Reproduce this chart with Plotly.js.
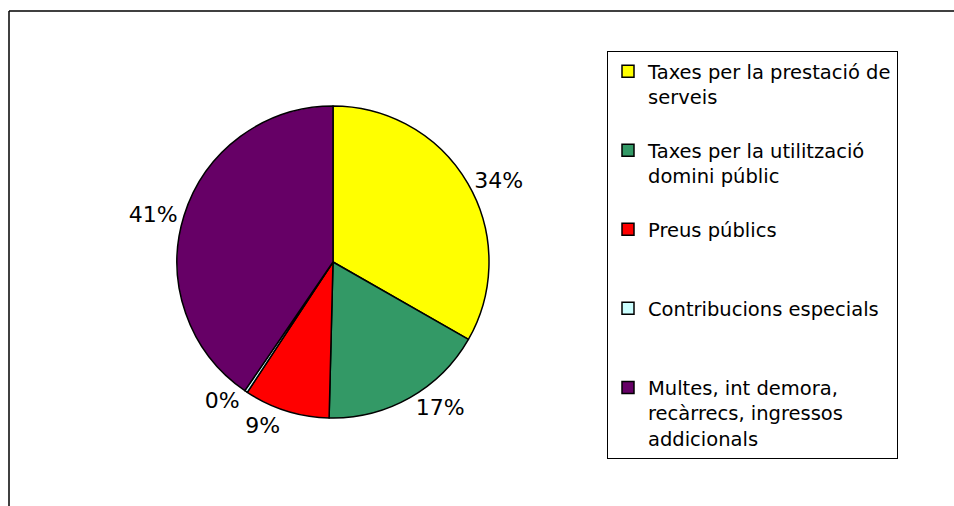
<!DOCTYPE html>
<html>
<head>
<meta charset="utf-8">
<script src="https://cdn.plot.ly/plotly-3.0.1.min.js"></script>
<style>html,body{margin:0;padding:0;background:#fff;}#chart{width:954px;height:506px;}
#chart path.textline{display:none !important;}</style>
</head>
<body>
<div id="chart"></div>
<script>
const categories = [
  "Taxes per la prestació de<br>serveis<br>&nbsp;",
  "Taxes per la utilització<br>domini públic<br>&nbsp;",
  "Preus públics<br>&nbsp;<br>&nbsp;",
  "Contribucions especials<br>&nbsp;<br>&nbsp;",
  "Multes, int demora,<br>recàrrecs, ingressos<br>addicionals"
];
const values = [33.4, 17.2, 8.9, 0.3, 40.6];
const percentLabels = ["34%", "17%", "9%", "0%", "41%"];
const colors = ["#FFFF00", "#339966", "#FF0000", "#CCFFFF", "#660066"];

const W = 954, H = 506;
const FONT = "'DejaVu Sans', Verdana, sans-serif";
const trace = {
  type: "pie",
  labels: categories,
  values: values,
  text: percentLabels,
  textinfo: "text",
  textposition: "outside",
  sort: false,
  direction: "clockwise",
  rotation: 0,
  marker: {colors: colors, line: {color: "#000", width: 1.5}},
  textfont: {family: FONT, size: 22, color: "#000"},
  domain: {x: [176 / W, 490 / W], y: [1 - 418 / H, 1 - 106 / H]},
  hoverinfo: "none"
};
const layout = {
  width: W, height: H,
  margin: {l: 0, r: 0, t: 0, b: 0},
  paper_bgcolor: "#fff",
  showlegend: true,
  legend: {
    x: 607 / W, y: 1 - 51 / H, xanchor: "left", yanchor: "top",
    bordercolor: "#000", borderwidth: 1, bgcolor: "#fff",
    valign: "top",
    font: {family: FONT, size: 19.5, color: "#000"}
  },
  shapes: [
    {type: "line", xref: "paper", yref: "paper", x0: 9 / W, x1: 1, y0: 1 - 11 / H, y1: 1 - 11 / H, line: {color: "#000", width: 1.5}},
    {type: "line", xref: "paper", yref: "paper", x0: 9 / W, x1: 9 / W, y0: 1 - 11 / H, y1: 0, line: {color: "#000", width: 1.5}}
  ]
};
Plotly.newPlot("chart", [trace], layout, {displayModeBar: false, staticPlot: true});
</script>
</body>
</html>
